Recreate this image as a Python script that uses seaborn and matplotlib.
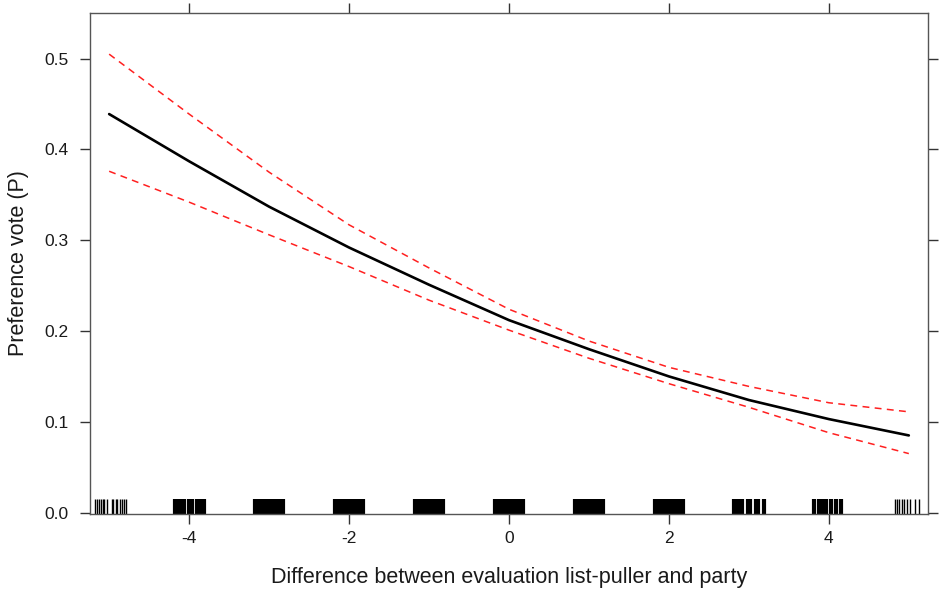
import seaborn as sns
import matplotlib.pyplot as plt
import pandas as pd

# === Data ===
diff = [-5, -4, -3, -2, -1, 0, 1, 2, 3, 4, 5]
fit = [0.439, 0.387, 0.337, 0.292, 0.251, 0.212, 0.180, 0.150, 0.124, 0.103, 0.085]
upper = [0.505, 0.439, 0.375, 0.317, 0.2695, 0.224, 0.189, 0.160, 0.139, 0.121, 0.111]
lower = [0.376, 0.342, 0.306, 0.271, 0.234, 0.201, 0.170, 0.142, 0.116, 0.088, 0.065]

# rug: observed (jittered) values of the predictor
rug_sparse = [-5.18, -5.15, -5.13, -5.10, -5.08, -5.06, -5.03, -4.97, -4.95, -4.92,
              -4.90, -4.87, -4.84, -4.81, -4.79,
              4.83, 4.85, 4.88, 4.91, 4.94, 4.98, 5.01, 5.08, 5.13]
rug_dense = [-4.18, -4.14, -4.10, -4.07, -4.005, -3.97, -3.905, -3.86, -3.82,
             -3.18, -3.14, -3.10, -3.06, -3.02, -2.98, -2.94, -2.90, -2.86, -2.82,
             -2.18, -2.14, -2.10, -2.06, -2.02, -1.98, -1.94, -1.90, -1.86, -1.82,
             -1.18, -1.14, -1.10, -1.06, -1.02, -0.98, -0.94, -0.90, -0.86, -0.82,
             -0.18, -0.14, -0.10, -0.06, -0.02, 0.02, 0.06, 0.10, 0.14, 0.18,
             0.82, 0.86, 0.90, 0.94, 0.98, 1.02, 1.06, 1.10, 1.14, 1.18,
             1.82, 1.86, 1.90, 1.94, 1.98, 2.02, 2.06, 2.10, 2.14, 2.18,
             2.82, 2.86, 2.92, 2.985, 3.02, 3.085, 3.12, 3.185,
             3.81, 3.875, 3.92, 3.96, 4.025, 4.09, 4.155]

yticks = [0.0, 0.1, 0.2, 0.3, 0.4, 0.5]
xticks = [-4, -2, 0, 2, 4]

df = pd.DataFrame({'diff': diff, 'fit': fit, 'upper': upper, 'lower': lower})

# === Style ===
sns.set_theme(style="ticks")
plt.rcParams['font.family'] = ['Liberation Sans', 'DejaVu Sans']

fig = plt.figure(figsize=(9.39, 5.92), dpi=100)
ax = fig.add_axes([0.0958, 0.1326, 0.8925, 0.8454])

# === Lines ===
sns.lineplot(data=df, x='diff', y='fit', color='black', lw=1.9, ax=ax)
for col in ['upper', 'lower']:
    sns.lineplot(data=df, x='diff', y=col, color='#ff2020', lw=1.1,
                 dashes=False, ax=ax).lines[-1].set_dashes([4.5, 3.5])

# === Rug ===
sns.rugplot(x=rug_sparse, height=0.028, color='black', linewidth=1.0, ax=ax)
sns.rugplot(x=rug_dense, height=0.028, color='black', linewidth=3.0, ax=ax)

# === Axes ===
ax.set_xlim(-5.24, 5.24)
ax.set_ylim(-0.001, 0.5503)
ax.set_xticks(xticks)
ax.set_xticklabels([str(t) for t in xticks])
ax.set_yticks(yticks)
ax.set_yticklabels([f"{t:.1f}" for t in yticks])
ax.tick_params(axis='both', direction='out', length=7.5, width=1, color='#333333',
               labelsize=12.5, labelcolor='#1a1a1a', top=True, right=True,
               labeltop=False, labelright=False)
ax.tick_params(axis='x', pad=5)
ax.tick_params(axis='y', pad=8)
for sp in ax.spines.values():
    sp.set_visible(True)
    sp.set_color('#555555')
    sp.set_linewidth(1.0)

ax.set_xlabel("Difference between evaluation list-puller and party", fontsize=15.5,
              color='#1a1a1a', labelpad=15)
ax.set_ylabel("Preference vote (P)", fontsize=15.5, color='#1a1a1a', labelpad=11)

fig.savefig("out.png", dpi=100)
plt.close(fig)
